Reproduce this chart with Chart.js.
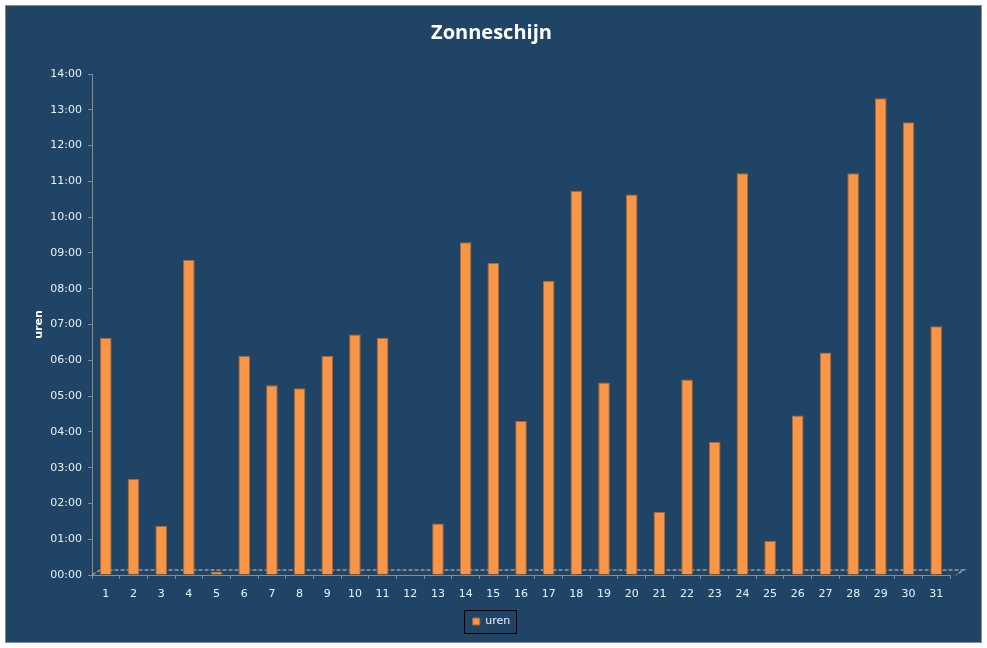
<!DOCTYPE html>
<html lang="nl">

<head>
    <meta charset="UTF-8" />
    <title>Zonneschijn</title>
    <script src="https://cdn.jsdelivr.net/npm/chart.js"></script>
    <style>
        body { margin: 0; background: #ffffff; }
        #wrap {
            position: absolute; left: 5px; top: 5px;
            width: 975px; height: 636px;
            border: 1px solid #8a8a8a;
            background: #1f4466;
        }
    </style>
</head>

<body>
    <div id="wrap"><canvas id="sunChart" width="975" height="636"></canvas></div>

    <script>
        // dagen van de maand
        const days = ['1', '2', '3', '4', '5', '6', '7', '8', '9', '10', '11', '12', '13', '14', '15', '16',
            '17', '18', '19', '20', '21', '22', '23', '24', '25', '26', '27', '28', '29', '30', '31'];
        // uren zonneschijn per dag (decimale uren)
        const uren = [6.62, 2.68, 1.37, 8.8, 0.1, 6.13, 5.3, 5.22, 6.13, 6.72, 6.63, 0, 1.44, 9.3, 8.72, 4.3,
            8.22, 10.73, 5.38, 10.63, 1.76, 5.46, 3.72, 11.23, 0.95, 4.46, 6.22, 11.23, 13.32, 12.65, 6.95];
        const yTickLabels = ['00:00', '01:00', '02:00', '03:00', '04:00', '05:00', '06:00', '07:00',
            '08:00', '09:00', '10:00', '11:00', '12:00', '13:00', '14:00'];

        const axisGrey = '#8c8c8c';
        const labelColor = '#eaf2fa';

        // grijze "vloer" van de 3D-grafiek en kader om de legenda
        const decor = {
            id: 'decor',
            beforeDatasetsDraw(chart) {
                const a = chart.chartArea;
                const c = chart.ctx;
                c.save();
                c.strokeStyle = '#9a9a9a';
                c.lineWidth = 1.5;
                c.setLineDash([4, 2]);
                c.beginPath();
                c.moveTo(a.left, a.bottom);
                c.lineTo(a.left + 8, a.bottom - 5);
                c.lineTo(a.right + 14, a.bottom - 5);
                c.lineTo(a.right + 6, a.bottom);
                c.stroke();
                c.restore();
            },
            afterDraw(chart) {
                const hit = chart.legend.legendHitBoxes[0];
                if (!hit) return;
                const c = chart.ctx;
                const cy = hit.top + hit.height / 2;
                c.save();
                c.strokeStyle = '#000000';
                c.lineWidth = 1;
                c.strokeRect(Math.round(hit.left - 9) + 0.5, Math.round(cy - 11.5) + 0.5, Math.round(hit.width + 15), 23);
                c.restore();
            }
        };

        const ctx = document.getElementById('sunChart').getContext('2d');

        new Chart(ctx, {
            type: 'bar',
            data: {
                labels: days,
                datasets: [{
                    label: 'uren',
                    data: uren,
                    backgroundColor: '#f79646',
                    borderColor: '#b8652a',
                    borderWidth: 1,
                    barPercentage: 0.42,
                    categoryPercentage: 1
                }]
            },
            options: {
                responsive: false,
                animation: false,
                layout: {
                    padding: { left: 27, right: 31, top: 5, bottom: 5 }
                },
                plugins: {
                    title: {
                        display: true,
                        text: 'Zonneschijn',
                        color: '#ffffff',
                        font: { family: 'Open Sans', size: 20, weight: 'bold' },
                        padding: { top: 10, bottom: 29 }
                    },
                    legend: {
                        position: 'bottom',
                        labels: {
                            color: labelColor,
                            font: { family: 'DejaVu Sans', size: 11 },
                            boxWidth: 7,
                            boxHeight: 7,
                            padding: 8
                        }
                    },
                    tooltip: { enabled: false }
                },
                scales: {
                    x: {
                        afterFit(scale) { scale.height = 33; },
                        grid: {
                            drawOnChartArea: false,
                            color: axisGrey,
                            tickLength: 4
                        },
                        border: { color: axisGrey },
                        ticks: {
                            color: labelColor,
                            font: { family: 'DejaVu Sans', size: 11 },
                            maxRotation: 0,
                            padding: 9
                        }
                    },
                    y: {
                        min: 0,
                        max: 14,
                        afterFit(scale) { scale.width = 59; },
                        title: {
                            display: true,
                            text: 'uren',
                            color: '#ffffff',
                            font: { family: 'DejaVu Sans', size: 11, weight: 'bold' },
                            padding: 0
                        },
                        grid: {
                            drawOnChartArea: false,
                            color: axisGrey,
                            tickLength: 4
                        },
                        border: { color: axisGrey },
                        ticks: {
                            stepSize: 1,
                            color: labelColor,
                            font: { family: 'DejaVu Sans', size: 11 },
                            padding: 6,
                            callback: (v) => yTickLabels[v]
                        }
                    }
                }
            },
            plugins: [decor]
        });
    </script>
</body>

</html>
